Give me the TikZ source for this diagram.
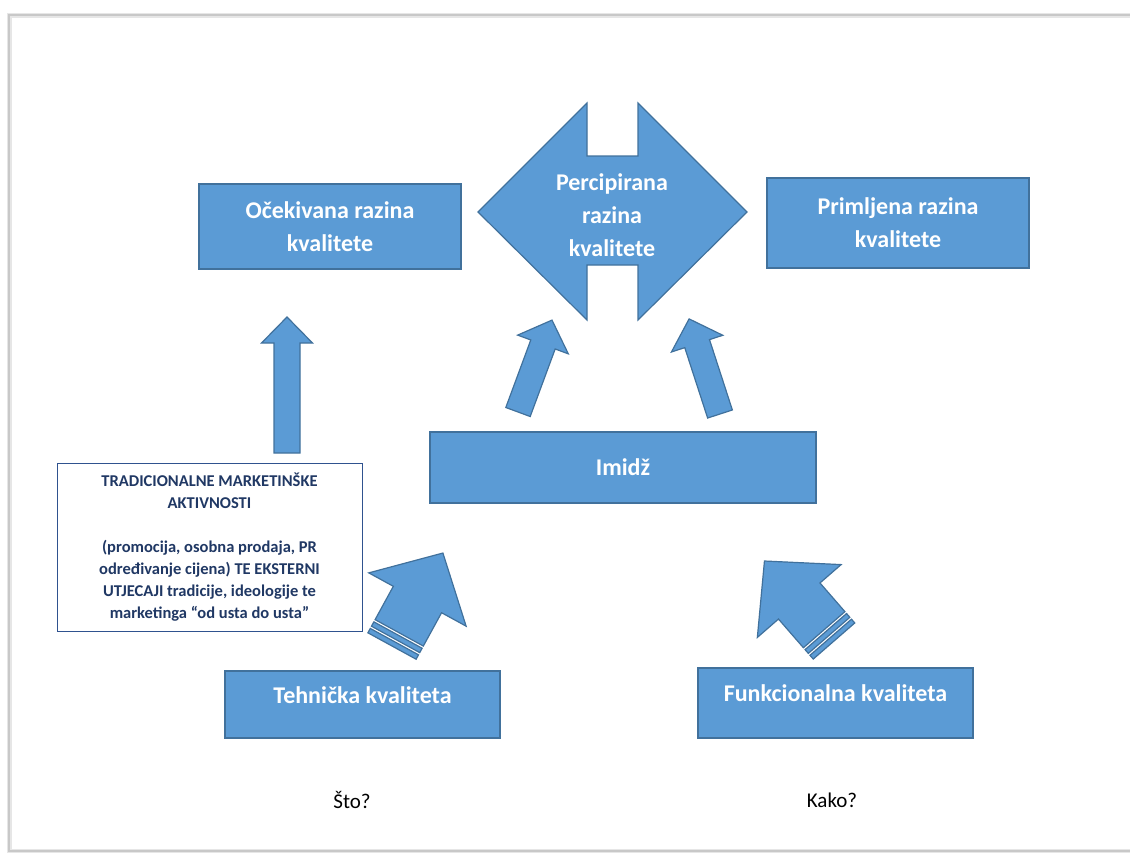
\documentclass[tikz,border=0pt]{standalone}
\usepackage{fontspec}
\setmainfont{Carlito}
\usetikzlibrary{positioning}
\definecolor{BoxFill}{HTML}{5B9BD5}
\definecolor{BoxEdge}{HTML}{41719C}
\definecolor{Navy}{HTML}{203864}
\definecolor{NoteEdge}{HTML}{2F528F}
\definecolor{PageRule}{HTML}{C8C8C8}

\tikzset{
  shapefill/.style={draw=BoxEdge,fill=BoxFill,line width=1.2pt,line join=miter},
  box/.style={shapefill,text=white,align=center,inner sep=0pt,
    font=\fontsize{24}{33}\selectfont\bfseries},
  % length / head width / shaft width / head length
  pics/blockup/.style args={#1/#2/#3/#4}{code={
    \filldraw[shapefill] ({-#3/2},0) -- ({-#3/2},{-(#1-#4)}) -- ({-#2/2},{-(#1-#4)}) -- (0,-#1)
      -- ({#2/2},{-(#1-#4)}) -- ({#3/2},{-(#1-#4)}) -- ({#3/2},0) -- cycle;
  }},
  pics/striped/.style={code={
    \filldraw[shapefill] (-27.5,0) rectangle (27.5,-5);
    \filldraw[shapefill] (-27.5,-7.5) rectangle (27.5,-12.5);
    \filldraw[shapefill]
      (-27.5,-15) -- (-27.5,-53) -- (-55.5,-53) -- (0,-106) -- (55.5,-53) -- (27.5,-53) -- (27.5,-15) -- cycle;
  }}
}

\begin{document}
\begin{tikzpicture}[x=1pt,y=-1pt]
  \useasboundingbox (0,0) rectangle (1130,852);
  % page outline
  \draw[PageRule!45,line width=5pt] (9,15) rectangle (1140,851);
  \draw[PageRule,line width=1.5pt] (9,15) rectangle (1140,851);

  % quality levels
  \node[box,minimum width=262pt,minimum height=85pt] (ocek) at (330,226.5) {Očekivana razina\\kvalitete};
  \node[box,minimum width=262pt,minimum height=90pt] (prim) at (898,223) {Primljena razina\\kvalitete};
  \filldraw[shapefill] (478,212) -- (587,103) -- (587,156) -- (638,156) -- (638,103) -- (747,212)
    -- (638,320) -- (638,265) -- (587,265) -- (587,320) -- cycle;
  \node[text=white,align=center,font=\fontsize{24}{33}\selectfont\bfseries] (perc) at (612,215) {Percipirana\\razina\\kvalitete};

  % image and its arrows
  \node[box,minimum width=386pt,minimum height=71pt] (imidz) at (623,467.5) {Imidž};
  \pic (upleft) at (287,453) {blockup={136/51/26/26}};
  \pic[rotate=-20.3] (upmidl) at (518,412) {blockup={98/54/26/26}};
  \pic[rotate=18] (upmidr) at (720,414) {blockup={100/54/26/26}};

  % note box
  \node[draw=NoteEdge,line width=0.8pt,fill=white,minimum width=305pt,minimum height=168pt,text=Navy,align=center,
    font=\fontsize{16.5}{22}\selectfont\bfseries] (trad) at (209.5,547) {TRADICIONALNE MARKETINŠKE\\AKTIVNOSTI\\[22pt]
    (promocija, osobna prodaja, PR\\određivanje cijena) TE EKSTERNI\\UTJECAJI tradicije, ideologije te\\marketinga “od usta do usta”};

  % technical and functional quality
  \pic[rotate=-28.7] (stripl) at (392,646) {striped};
  \pic[rotate=41] (stripr) at (834,641) {striped};
  \node[box,minimum width=275pt,minimum height=67pt,text depth=19pt] (tehn) at (362.5,704.5) {Tehnička kvaliteta};
  \node[box,minimum width=275pt,minimum height=70pt,text depth=19pt] (funk) at (835.5,703) {Funkcionalna kvaliteta};

  \node[font=\fontsize{21}{25}\selectfont] (sto) at (352,800) {Što?};
  \node[font=\fontsize{21}{25}\selectfont] (kako) at (832,800) {Kako?};
\end{tikzpicture}
\end{document}
